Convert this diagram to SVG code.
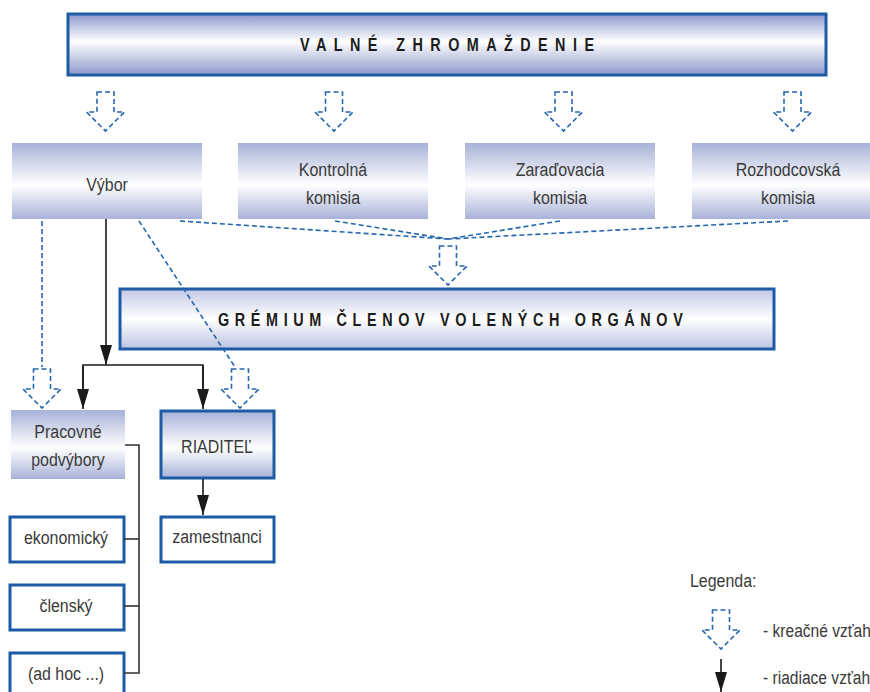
<svg xmlns="http://www.w3.org/2000/svg" xmlns:xlink="http://www.w3.org/1999/xlink" width="870" height="692" viewBox="0 0 870 692">
<defs>
<linearGradient id="gTitle" x1="0" y1="0" x2="0" y2="1">
<stop offset="0" stop-color="#8c9acb"/><stop offset="0.45" stop-color="#ffffff"/><stop offset="1" stop-color="#8c9acb"/>
</linearGradient>
<linearGradient id="gBox" x1="0" y1="0" x2="0" y2="1">
<stop offset="0" stop-color="#a8b2d8"/><stop offset="0.55" stop-color="#ffffff"/><stop offset="1" stop-color="#a8b2d8"/>
</linearGradient>
<linearGradient id="gGrem" x1="0" y1="0" x2="0" y2="1">
<stop offset="0" stop-color="#c2c8e5"/><stop offset="0.5" stop-color="#ffffff"/><stop offset="1" stop-color="#bcc3e1"/>
</linearGradient>
<path id="hollow" d="M-8.5,0 H8.5 V20 H19 L0,39 L-19,20 H-8.5 Z"/>
<marker id="ah" viewBox="0 0 20 12" refX="20" refY="6" markerWidth="20" markerHeight="12" markerUnits="userSpaceOnUse" orient="auto">
<path d="M0,0 L20,6 L0,12 Z" fill="#1a1a1a"/>
</marker>
<style>
.title{font-family:"Liberation Sans",Arial,sans-serif;font-weight:bold;font-size:18px;fill:#1c1c1c}
.lbl{font-family:"Liberation Sans",Arial,sans-serif;font-size:19px;fill:#3a3a3a;text-anchor:middle}
.leg{font-family:"Liberation Sans",Arial,sans-serif;font-size:19px;fill:#3a3a3a}
.bord{stroke:#1d5ba6;stroke-width:3}
.dash{fill:none;stroke:#2466b0;stroke-width:1.6;stroke-dasharray:5 3}
.solid{fill:none;stroke:#1a1a1a;stroke-width:1.6}
.brk{fill:none;stroke:#333333;stroke-width:1.6}
</style>
</defs>

<g id="valne-zhromazdenie">
<rect x="68" y="14" width="758" height="61" fill="url(#gTitle)" class="bord"/>
<text class="title" transform="translate(300,51) scale(0.8,1)" textLength="367.5" lengthAdjust="spacing">VALNÉ ZHROMAŽDENIE</text>
</g>

<g id="vybor">
<rect x="12" y="143" width="190" height="76" fill="url(#gBox)"/>
<text class="lbl" transform="translate(107,191) scale(0.84,1)">Výbor</text>
</g>
<g id="kontrolna-komisia">
<rect x="238" y="143" width="190" height="76" fill="url(#gBox)"/>
<text class="lbl" transform="translate(333,176) scale(0.84,1)">Kontrolná</text>
<text class="lbl" transform="translate(333,204) scale(0.84,1)">komisia</text>
</g>
<g id="zaradovacia-komisia">
<rect x="465" y="143" width="190" height="76" fill="url(#gBox)"/>
<text class="lbl" transform="translate(560,176) scale(0.84,1)">Zaraďovacia</text>
<text class="lbl" transform="translate(560,204) scale(0.84,1)">komisia</text>
</g>
<g id="rozhodcovska-komisia">
<rect x="692" y="143" width="190" height="76" fill="url(#gBox)"/>
<text class="lbl" transform="translate(788,176) scale(0.84,1)">Rozhodcovská</text>
<text class="lbl" transform="translate(788,204) scale(0.84,1)">komisia</text>
</g>

<g id="gremium">
<rect x="120" y="289" width="654" height="60" fill="url(#gGrem)" class="bord"/>
<text class="title" transform="translate(218,326) scale(0.8,1)" textLength="581" lengthAdjust="spacing">GRÉMIUM ČLENOV VOLENÝCH ORGÁNOV</text>
</g>

<g id="pracovne-podvybory">
<rect x="11" y="410" width="114" height="69" fill="url(#gBox)"/>
<text class="lbl" transform="translate(68,438) scale(0.84,1)">Pracovné</text>
<text class="lbl" transform="translate(68,466) scale(0.84,1)">podvýbory</text>
</g>
<g id="riaditel">
<rect x="161" y="411" width="113" height="67" fill="url(#gBox)" class="bord"/>
<text class="lbl" transform="translate(217,453) scale(0.84,1)">RIADITEĽ</text>
</g>
<g id="zamestnanci">
<rect x="161" y="517" width="113" height="45" fill="#ffffff" class="bord"/>
<text class="lbl" transform="translate(217,543) scale(0.84,1)">zamestnanci</text>
</g>
<g id="ekonomicky">
<rect x="10" y="517" width="114" height="45" fill="#ffffff" class="bord"/>
<text class="lbl" transform="translate(66,544) scale(0.84,1)">ekonomický</text>
</g>
<g id="clensky">
<rect x="10" y="585" width="114" height="45" fill="#ffffff" class="bord"/>
<text class="lbl" transform="translate(66,612) scale(0.84,1)">členský</text>
</g>
<g id="ad-hoc">
<rect x="10" y="653" width="114" height="45" fill="#ffffff" class="bord"/>
<text class="lbl" transform="translate(66,680) scale(0.84,1)">(ad hoc ...)</text>
</g>

<g id="connectors">
<use xlink:href="#hollow" class="dash" x="105.5" y="92"/>
<use xlink:href="#hollow" class="dash" x="334" y="92"/>
<use xlink:href="#hollow" class="dash" x="563.5" y="92"/>
<use xlink:href="#hollow" class="dash" x="792.5" y="92"/>
<line class="dash" x1="180" y1="221" x2="448" y2="239"/>
<line class="dash" x1="335" y1="221" x2="448" y2="239"/>
<line class="dash" x1="560" y1="221" x2="448" y2="239"/>
<line class="dash" x1="788" y1="221" x2="448" y2="239"/>
<use xlink:href="#hollow" class="dash" x="448" y="246"/>
<line class="dash" x1="42" y1="221" x2="42" y2="367"/>
<use xlink:href="#hollow" class="dash" x="42" y="369"/>
<line class="dash" x1="139" y1="221" x2="235" y2="367"/>
<use xlink:href="#hollow" class="dash" x="240" y="369"/>
<line class="solid" x1="106" y1="219" x2="106" y2="365" marker-end="url(#ah)"/>
<polyline class="solid" points="83,390 83,365 203,365 203,390"/>
<line class="solid" x1="83" y1="366" x2="83" y2="409" marker-end="url(#ah)"/>
<line class="solid" x1="203" y1="366" x2="203" y2="409" marker-end="url(#ah)"/>
<line class="solid" x1="203" y1="479" x2="203" y2="515" marker-end="url(#ah)"/>
<polyline class="brk" points="125,445 139,445 139,673 124,673"/>
<line class="brk" x1="124" y1="539" x2="139" y2="539"/>
<line class="brk" x1="124" y1="606" x2="139" y2="606"/>
</g>

<g id="legenda">
<text class="leg" transform="translate(690,587) scale(0.84,1)">Legenda:</text>
<use xlink:href="#hollow" class="dash" x="721" y="610"/>
<text class="leg" transform="translate(763,637) scale(0.82,1)">- kreačné vzťah</text>
<line class="solid" x1="721" y1="659" x2="721" y2="692" marker-end="url(#ah)"/>
<text class="leg" transform="translate(763,684) scale(0.82,1)">- riadiace vzťah</text>
</g>
</svg>
